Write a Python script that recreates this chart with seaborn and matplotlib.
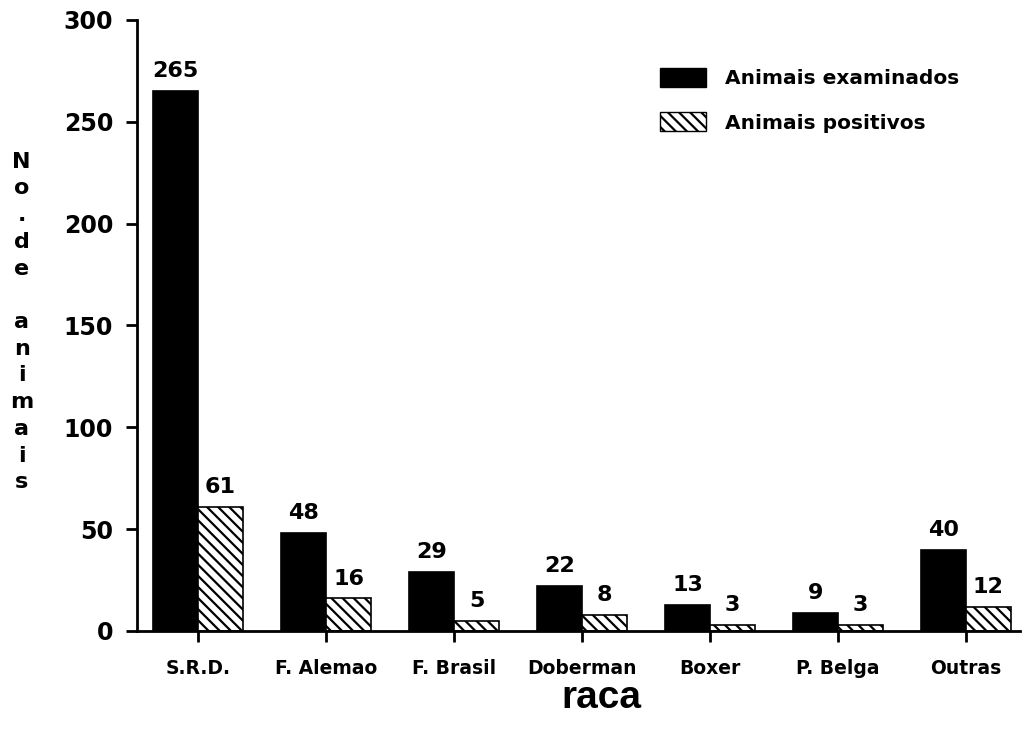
import matplotlib
matplotlib.use('Agg')
import numpy as np
import pandas as pd
import seaborn as sns
import matplotlib.pyplot as plt
from matplotlib.patches import Patch

# data
racas = ['S.R.D.', 'F. Alemao', 'F. Brasil', 'Doberman', 'Boxer', 'P. Belga', 'Outras']
examinados = [265, 48, 29, 22, 13, 9, 40]
positivos = [61, 16, 5, 8, 3, 3, 12]
series = ['Animais examinados', 'Animais positivos']
y_ticks = [0, 50, 100, 150, 200, 250, 300]

df = pd.DataFrame({
    'raca': racas * 2,
    'grupo': [series[0]] * len(racas) + [series[1]] * len(racas),
    'n': examinados + positivos,
})

sns.set_style('white')
plt.rcParams['font.family'] = ['DejaVu Sans']
plt.rcParams['font.weight'] = 'bold'
plt.rcParams['text.color'] = 'black'
plt.rcParams['axes.labelcolor'] = 'black'
plt.rcParams['xtick.color'] = 'black'
plt.rcParams['ytick.color'] = 'black'
plt.rcParams['hatch.linewidth'] = 1.6
plt.rcParams['hatch.color'] = 'black'

fig = plt.figure(figsize=(10.28, 7.35), dpi=100)
ax = fig.add_axes([0.133, 0.1415, 0.859, 0.8315])

sns.barplot(data=df, x='raca', y='n', hue='grupo', order=racas, hue_order=series,
            palette=['black', 'white'], edgecolor='black', linewidth=1.2,
            width=0.7, ax=ax, legend=False)

# second series is hatched like the scan
for bar in ax.containers[1]:
    bar.set_hatch('\\\\\\')

for cont in ax.containers:
    ax.bar_label(cont, fontsize=16, fontweight='bold', padding=7)

ax.set_ylim(0, 300)
ax.set_xlim(-0.48, 6.42)
ax.set_yticks(y_ticks)
ax.set_yticklabels([str(v) for v in y_ticks], fontsize=17, fontweight='bold')
ax.set_xticks(range(len(racas)))
ax.set_xticklabels(racas, fontsize=13.5, fontweight='bold')
ax.tick_params(axis='both', direction='out', length=8, width=2, color='black',
               left=True, bottom=True)
ax.tick_params(axis='x', pad=12)
ax.tick_params(axis='y', pad=9)

sns.despine(ax=ax)
for s in ['left', 'bottom']:
    ax.spines[s].set_linewidth(2)
    ax.spines[s].set_color('black')

ax.set_ylabel('')
ax.set_xlabel('raca', fontsize=28, fontweight='bold', family='Liberation Sans')
ax.xaxis.set_label_coords((602 - 137) / 883, -(680 - 631) / 611)

# stacked vertical letters for the y label
ylab = '\n'.join(list('No.de')) + '\n\n' + '\n'.join(list('animais'))
fig.text(0.021, 1 - 322 / 735, ylab, fontsize=16, fontweight='bold', ha='center', va='center',
         linespacing=1.42)

handles = [Patch(facecolor='black', edgecolor='black'),
           Patch(facecolor='white', edgecolor='black', hatch='\\\\\\')]
ax.legend(handles, series, loc='upper left', bbox_to_anchor=(660 / 1028, 1 - 68 / 735),
          bbox_transform=fig.transFigure, frameon=False,
          handlelength=2.3, handleheight=1.05, handletextpad=0.95, labelspacing=1.2,
          borderpad=0, borderaxespad=0, prop={'weight': 'bold', 'size': 14.5})

fig.savefig('out.png', dpi=100, facecolor='white')
